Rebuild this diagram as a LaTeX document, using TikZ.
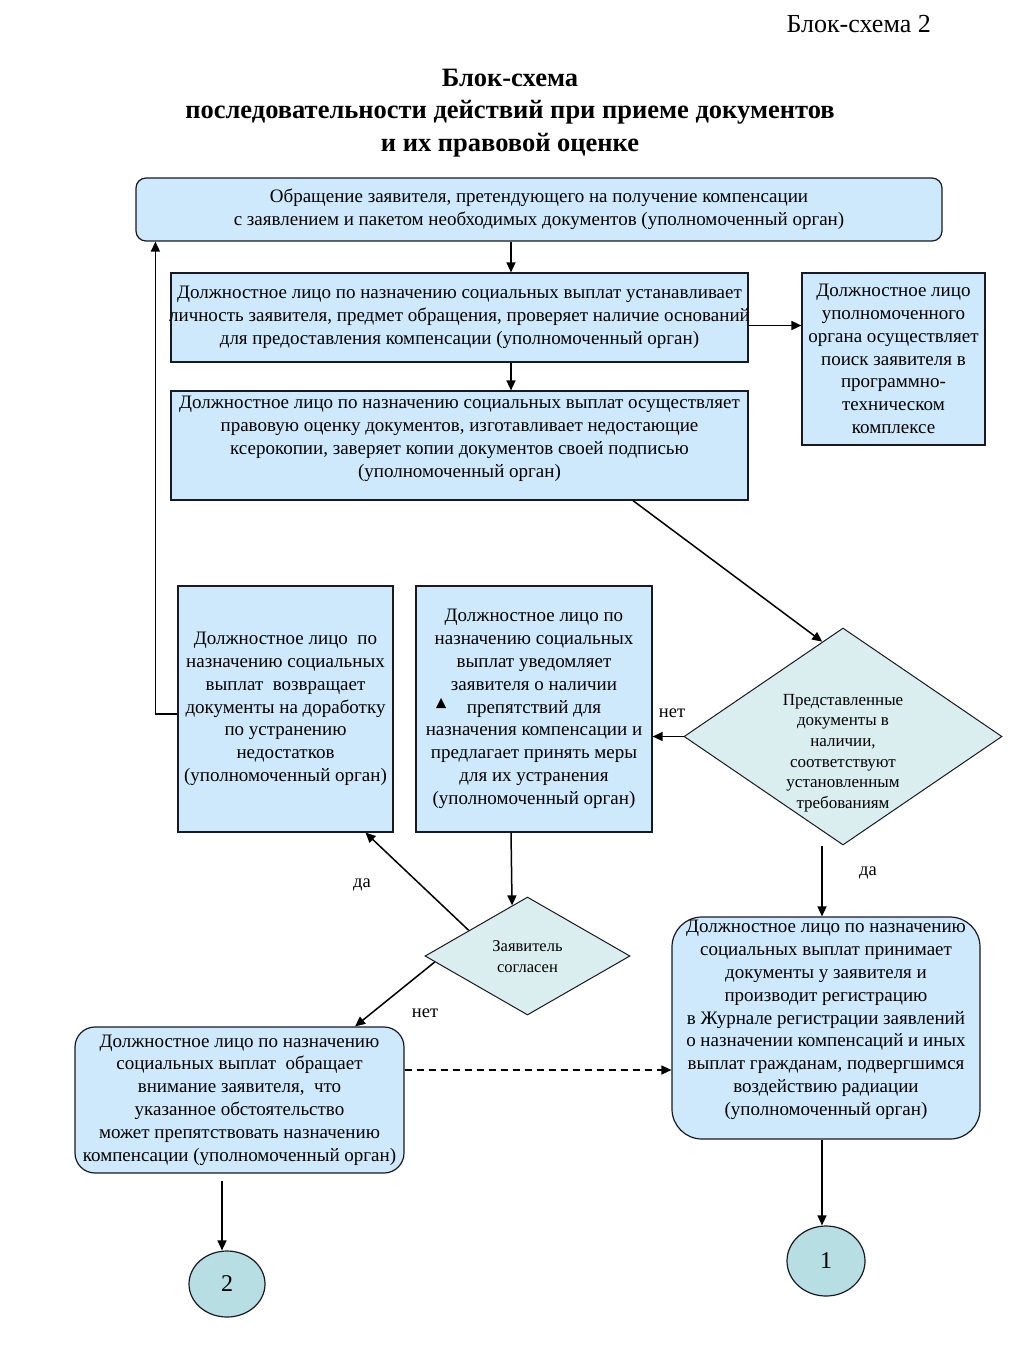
\documentclass[tikz,border=0pt]{standalone}
\usepackage{fontspec}
\setmainfont{Liberation Serif}
\usetikzlibrary{arrows.meta,shapes.geometric,calc}
\definecolor{boxfill}{RGB}{205,233,251}
\definecolor{diafill}{RGB}{218,238,240}
\definecolor{circfill}{RGB}{183,222,226}
\definecolor{edge}{RGB}{25,25,35}
\tikzset{
  box/.style={draw=edge, line width=1.2pt, fill=boxfill, inner sep=0pt, align=center,
    font=\fontsize{19}{22.8}\selectfont},
  boxtext/.style={inner sep=0pt, align=center, font=\fontsize{19}{22.8}\selectfont},
  dia/.style={draw=edge, line width=1pt, fill=diafill, diamond, inner sep=0pt},
  diatext/.style={align=center, inner sep=0pt, font=\fontsize{17}{20.6}\selectfont},
  circ/.style={draw=edge, line width=1.2pt, fill=circfill, ellipse, inner sep=0pt,
    font=\fontsize{24}{28}\selectfont},
  arr/.style={line width=1.5pt, -{Triangle[length=10pt,width=9pt]}},
  dasharr/.style={line width=1.3pt, dash pattern=on 7pt off 5pt, -{Triangle[length=10pt,width=9pt]}},
  lbl/.style={font=\fontsize{18.5}{20}\selectfont, inner sep=0pt},
  ttl/.style={font=\fontsize{26.5}{32.5}\selectfont\bfseries, align=center, inner sep=0pt},
}
\begin{document}
\begin{tikzpicture}[x=1pt,y=-1pt]
\fill[white] (0,0) rectangle (1024,1365);
\useasboundingbox (0,0) rectangle (1024,1365);

\node[font=\fontsize{26}{30}\selectfont, anchor=east, inner sep=0pt] (num) at (931,24) {Блок-схема 2};
\node[ttl] (title) at (510,113) {Блок-схема\\последовательности действий при приеме документов\\и их правовой оценке};

\node[box, rounded corners=10pt, minimum width=806, minimum height=63] (A) at (539,209.5)
 {Обращение заявителя, претендующего на получение компенсации\\с заявлением и пакетом необходимых документов (уполномоченный орган)};
\node[box, minimum width=577, minimum height=89] (B) at (459.5,317.5) {};
\node[boxtext] (Bt) at (459.5,317.5)
 {Должностное лицо по назначению социальных выплат устанавливает\\личность заявителя, предмет обращения, проверяет наличие оснований\\для предоставления компенсации (уполномоченный орган)};
\node[box, minimum width=183, minimum height=172] (C) at (893.5,359)
 {Должностное лицо\\уполномоченного\\органа осуществляет\\поиск заявителя в\\программно-\\техническом\\комплексе};
\node[box, minimum width=577, minimum height=109] (D) at (459.5,445.5) {};
\node[boxtext] (Dt) at (459.5,439)
 {Должностное лицо по назначению социальных выплат осуществляет\\правовую оценку документов, изготавливает недостающие\\ксерокопии, заверяет копии документов своей подписью\\(уполномоченный орган)};
\node[box, minimum width=215, minimum height=246] (E) at (285.5,709)
 {Должностное лицо\ \ по\\назначению социальных\\выплат\ \ возвращает\\документы на доработку\\по устранению\\недостатков\\(уполномоченный орган)};
\node[box, minimum width=236, minimum height=246] (F) at (534,709)
 {Должностное лицо по\\назначению социальных\\выплат уведомляет\\заявителя о наличии\\препятствий для\\назначения компенсации и\\предлагает принять меры\\для их устранения\\(уполномоченный орган)};

\node[dia, minimum width=318, minimum height=217] (d1) at (843,736.5) {};
\node[diatext] (d1t) at (843,753) {Представленные\\документы в\\наличии,\\соответствуют\\установленным\\требованиям};

\node[dia, minimum width=205, minimum height=118] (d2) at (527.5,956) {};
\node[diatext, font=\fontsize{16.5}{21}\selectfont] (d2t) at (527.5,957) {Заявитель\\согласен};

\node[box, rounded corners=20pt, minimum width=329, minimum height=146] (G) at (239.5,1100)
 {Должностное лицо по назначению\\социальных выплат\ \ обращает\\внимание заявителя,\ \ что\\указанное обстоятельство\\может препятствовать назначению\\компенсации (уполномоченный орган)};
\node[box, rounded corners=30pt, minimum width=308, minimum height=222] (H) at (826,1028) {};
\node[boxtext] (Ht) at (826,1020)
 {Должностное лицо по назначению\\социальных выплат принимает\\документы у заявителя и\\производит регистрацию\\в Журнале регистрации заявлений\\о назначении компенсаций и иных\\выплат гражданам, подвергшимся\\воздействию радиации\\(уполномоченный орган)};

\node[circ, minimum width=76, minimum height=66] (c2) at (227,1284) {2};
\node[circ, minimum width=78, minimum height=70] (c1) at (826,1261) {1};

\coordinate (x1) at (511,0);

% connectors
\draw[arr] (A.south -| x1) -- (B.north -| x1);
\draw[arr] ([yshift=-8pt]B.east) -- ([yshift=-8pt]B.east -| C.west);
\draw[arr] (B.south -| x1) -- (D.north -| x1);
\draw[arr] ($(D.south west)!0.8!(D.south east)$) -- ($(d1.north)!0.13!(d1.west)$);
\draw[arr] ([yshift=-5pt]E.west) -| ([xshift=20pt]A.south west);
\draw[arr] (d1.west) -- (d1.west -| F.east);
\node[lbl] (no1) at (672,713) {нет};
\draw[arr] (d1.south -| H.north) ++(-4,0) coordinate (d1s) -- (d1s |- H.north);
\node[lbl] (yes1) at (868,873) {да};
\draw[arr] (F.south -| x1) -- ($(d2.north)!0.15!(d2.west)$);
\draw[arr] ($(d2.north)!0.57!(d2.west)$) -- ($(E.south west)!0.87!(E.south east)$);
\node[lbl] (yes2) at (362,885) {да};
\draw[arr] ($(d2.west)!0.1!(d2.south)$) -- ($(G.north west)!0.85!(G.north east)$);
\node[lbl] (no2) at (425,1013) {нет};
\draw[dasharr] ([yshift=30pt]G.east) -- ([yshift=30pt]G.east -| H.west);
\draw[arr] (G.south -| c2) ++(-5,7) coordinate (gs) -- (gs |- c2.north);
\draw[arr] (H.south -| c1) ++(-4,0) coordinate (hs) -- (hs |- c1.north);

% stray arrowhead inside box F
\fill (441,698) -- (446,708) -- (436,708) -- cycle;
\end{tikzpicture}
\end{document}
